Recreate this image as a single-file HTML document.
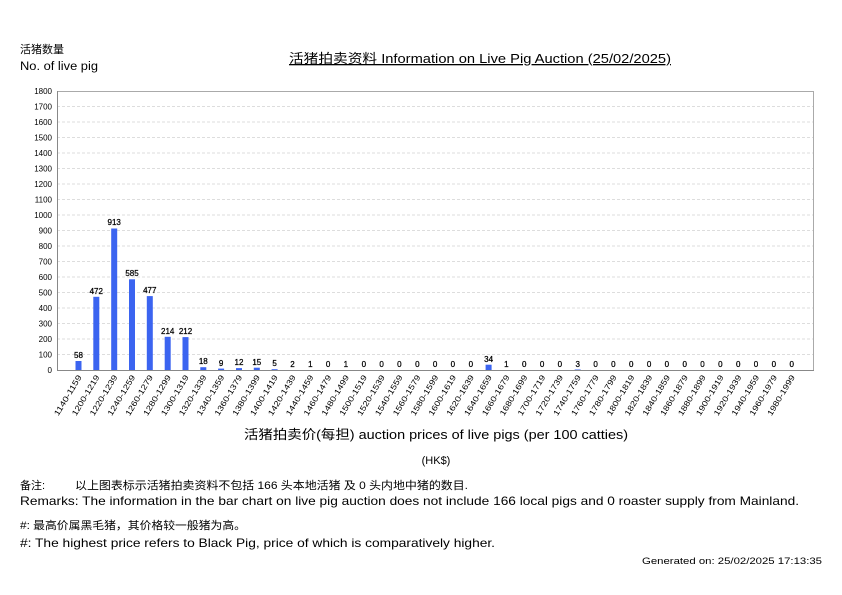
<!DOCTYPE html><html><head><meta charset="utf-8"><style>
body{margin:0;background:#fff}svg{display:block;font-family:"Liberation Sans","Noto Sans CJK SC",sans-serif}
</style></head><body>
<svg width="842" height="595" viewBox="0 0 842 595" xmlns="http://www.w3.org/2000/svg">
<text x="20" y="53" font-size="11">活猪数量</text>
<text x="20" y="70" font-size="11.5" textLength="78" lengthAdjust="spacingAndGlyphs">No. of live pig</text>
<text x="289" y="63" font-size="13" text-decoration="underline" textLength="382" lengthAdjust="spacingAndGlyphs">活猪拍卖资料 Information on Live Pig Auction (25/02/2025)</text>
<g stroke="#ddd" stroke-dasharray="3,2" stroke-width="1">
<line x1="57" x2="814" y1="106.5" y2="106.5"/><line x1="57" x2="814" y1="122" y2="122"/><line x1="57" x2="814" y1="137.5" y2="137.5"/><line x1="57" x2="814" y1="153" y2="153"/><line x1="57" x2="814" y1="168.5" y2="168.5"/><line x1="57" x2="814" y1="184" y2="184"/><line x1="57" x2="814" y1="199.5" y2="199.5"/><line x1="57" x2="814" y1="215" y2="215"/><line x1="57" x2="814" y1="230.5" y2="230.5"/><line x1="57" x2="814" y1="246" y2="246"/><line x1="57" x2="814" y1="261.5" y2="261.5"/><line x1="57" x2="814" y1="277" y2="277"/><line x1="57" x2="814" y1="292.5" y2="292.5"/><line x1="57" x2="814" y1="308" y2="308"/><line x1="57" x2="814" y1="323.5" y2="323.5"/><line x1="57" x2="814" y1="339" y2="339"/><line x1="57" x2="814" y1="354.5" y2="354.5"/>
</g>
<rect x="57.5" y="91.5" width="756" height="279" fill="none" stroke="#aaa"/>
<line x1="57.5" y1="91" x2="57.5" y2="371" stroke="#888"/>
<line x1="57" y1="370.5" x2="814" y2="370.5" stroke="#888"/>
<g font-size="8" text-anchor="end">
<text x="52" y="94">1800</text><text x="52" y="109.5">1700</text><text x="52" y="125">1600</text><text x="52" y="140.5">1500</text><text x="52" y="156">1400</text><text x="52" y="171.5">1300</text><text x="52" y="187">1200</text><text x="52" y="202.5">1100</text><text x="52" y="218">1000</text><text x="52" y="233.5">900</text><text x="52" y="249">800</text><text x="52" y="264.5">700</text><text x="52" y="280">600</text><text x="52" y="295.5">500</text><text x="52" y="311">400</text><text x="52" y="326.5">300</text><text x="52" y="342">200</text><text x="52" y="357.5">100</text><text x="52" y="373">0</text>
</g>
<g fill="#3b64f0">
<rect x="75.5" y="361" width="6" height="9"/><rect x="93.3" y="296.8" width="6" height="73.2"/><rect x="111.2" y="228.5" width="6" height="141.5"/><rect x="129" y="279.3" width="6" height="90.7"/><rect x="146.8" y="296.1" width="6" height="73.9"/><rect x="164.7" y="336.8" width="6" height="33.2"/><rect x="182.5" y="337.1" width="6" height="32.9"/><rect x="200.3" y="367.2" width="6" height="2.8"/><rect x="218.1" y="368.6" width="6" height="1.4"/><rect x="236" y="368.1" width="6" height="1.9"/><rect x="253.8" y="367.7" width="6" height="2.3"/><rect x="271.6" y="369.2" width="6" height="0.8"/><rect x="485.6" y="364.7" width="6" height="5.3"/><rect x="574.7" y="369.5" width="6" height="0.5"/>
</g>
<g font-size="8" text-anchor="middle" stroke="#000" stroke-width="0.25">
<text x="78.5" y="358">58</text><text x="96.3" y="294">472</text><text x="114.2" y="225">913</text><text x="132" y="276">585</text><text x="149.8" y="293">477</text><text x="167.7" y="334">214</text><text x="185.5" y="334">212</text><text x="203.3" y="364">18</text><text x="221.1" y="366">9</text><text x="239" y="365">12</text><text x="256.8" y="365">15</text><text x="274.6" y="366">5</text><text x="292.5" y="367">2</text><text x="310.3" y="367">1</text><text x="328.1" y="367">0</text><text x="345.9" y="367">1</text><text x="363.8" y="367">0</text><text x="381.6" y="367">0</text><text x="399.4" y="367">0</text><text x="417.3" y="367">0</text><text x="435.1" y="367">0</text><text x="452.9" y="367">0</text><text x="470.8" y="367">0</text><text x="488.6" y="362">34</text><text x="506.4" y="367">1</text><text x="524.2" y="367">0</text><text x="542.1" y="367">0</text><text x="559.9" y="367">0</text><text x="577.7" y="367">3</text><text x="595.6" y="367">0</text><text x="613.4" y="367">0</text><text x="631.2" y="367">0</text><text x="649.1" y="367">0</text><text x="666.9" y="367">0</text><text x="684.7" y="367">0</text><text x="702.5" y="367">0</text><text x="720.4" y="367">0</text><text x="738.2" y="367">0</text><text x="756" y="367">0</text><text x="773.9" y="367">0</text><text x="791.7" y="367">0</text>
</g>
<g font-size="8" text-anchor="end">
<text transform="translate(82,377) rotate(-59)" textLength="46" lengthAdjust="spacingAndGlyphs">1140-1159</text><text transform="translate(99.8,377) rotate(-59)" textLength="46" lengthAdjust="spacingAndGlyphs">1200-1219</text><text transform="translate(117.7,377) rotate(-59)" textLength="46" lengthAdjust="spacingAndGlyphs">1220-1239</text><text transform="translate(135.5,377) rotate(-59)" textLength="46" lengthAdjust="spacingAndGlyphs">1240-1259</text><text transform="translate(153.3,377) rotate(-59)" textLength="46" lengthAdjust="spacingAndGlyphs">1260-1279</text><text transform="translate(171.2,377) rotate(-59)" textLength="46" lengthAdjust="spacingAndGlyphs">1280-1299</text><text transform="translate(189,377) rotate(-59)" textLength="46" lengthAdjust="spacingAndGlyphs">1300-1319</text><text transform="translate(206.8,377) rotate(-59)" textLength="46" lengthAdjust="spacingAndGlyphs">1320-1339</text><text transform="translate(224.6,377) rotate(-59)" textLength="46" lengthAdjust="spacingAndGlyphs">1340-1359</text><text transform="translate(242.5,377) rotate(-59)" textLength="46" lengthAdjust="spacingAndGlyphs">1360-1379</text><text transform="translate(260.3,377) rotate(-59)" textLength="46" lengthAdjust="spacingAndGlyphs">1380-1399</text><text transform="translate(278.1,377) rotate(-59)" textLength="46" lengthAdjust="spacingAndGlyphs">1400-1419</text><text transform="translate(296,377) rotate(-59)" textLength="46" lengthAdjust="spacingAndGlyphs">1420-1439</text><text transform="translate(313.8,377) rotate(-59)" textLength="46" lengthAdjust="spacingAndGlyphs">1440-1459</text><text transform="translate(331.6,377) rotate(-59)" textLength="46" lengthAdjust="spacingAndGlyphs">1460-1479</text><text transform="translate(349.4,377) rotate(-59)" textLength="46" lengthAdjust="spacingAndGlyphs">1480-1499</text><text transform="translate(367.3,377) rotate(-59)" textLength="46" lengthAdjust="spacingAndGlyphs">1500-1519</text><text transform="translate(385.1,377) rotate(-59)" textLength="46" lengthAdjust="spacingAndGlyphs">1520-1539</text><text transform="translate(402.9,377) rotate(-59)" textLength="46" lengthAdjust="spacingAndGlyphs">1540-1559</text><text transform="translate(420.8,377) rotate(-59)" textLength="46" lengthAdjust="spacingAndGlyphs">1560-1579</text><text transform="translate(438.6,377) rotate(-59)" textLength="46" lengthAdjust="spacingAndGlyphs">1580-1599</text><text transform="translate(456.4,377) rotate(-59)" textLength="46" lengthAdjust="spacingAndGlyphs">1600-1619</text><text transform="translate(474.3,377) rotate(-59)" textLength="46" lengthAdjust="spacingAndGlyphs">1620-1639</text><text transform="translate(492.1,377) rotate(-59)" textLength="46" lengthAdjust="spacingAndGlyphs">1640-1659</text><text transform="translate(509.9,377) rotate(-59)" textLength="46" lengthAdjust="spacingAndGlyphs">1660-1679</text><text transform="translate(527.7,377) rotate(-59)" textLength="46" lengthAdjust="spacingAndGlyphs">1680-1699</text><text transform="translate(545.6,377) rotate(-59)" textLength="46" lengthAdjust="spacingAndGlyphs">1700-1719</text><text transform="translate(563.4,377) rotate(-59)" textLength="46" lengthAdjust="spacingAndGlyphs">1720-1739</text><text transform="translate(581.2,377) rotate(-59)" textLength="46" lengthAdjust="spacingAndGlyphs">1740-1759</text><text transform="translate(599.1,377) rotate(-59)" textLength="46" lengthAdjust="spacingAndGlyphs">1760-1779</text><text transform="translate(616.9,377) rotate(-59)" textLength="46" lengthAdjust="spacingAndGlyphs">1780-1799</text><text transform="translate(634.7,377) rotate(-59)" textLength="46" lengthAdjust="spacingAndGlyphs">1800-1819</text><text transform="translate(652.6,377) rotate(-59)" textLength="46" lengthAdjust="spacingAndGlyphs">1820-1839</text><text transform="translate(670.4,377) rotate(-59)" textLength="46" lengthAdjust="spacingAndGlyphs">1840-1859</text><text transform="translate(688.2,377) rotate(-59)" textLength="46" lengthAdjust="spacingAndGlyphs">1860-1879</text><text transform="translate(706,377) rotate(-59)" textLength="46" lengthAdjust="spacingAndGlyphs">1880-1899</text><text transform="translate(723.9,377) rotate(-59)" textLength="46" lengthAdjust="spacingAndGlyphs">1900-1919</text><text transform="translate(741.7,377) rotate(-59)" textLength="46" lengthAdjust="spacingAndGlyphs">1920-1939</text><text transform="translate(759.5,377) rotate(-59)" textLength="46" lengthAdjust="spacingAndGlyphs">1940-1959</text><text transform="translate(777.4,377) rotate(-59)" textLength="46" lengthAdjust="spacingAndGlyphs">1960-1979</text><text transform="translate(795.2,377) rotate(-59)" textLength="46" lengthAdjust="spacingAndGlyphs">1980-1999</text>
</g>
<text x="436" y="439" font-size="13" text-anchor="middle" textLength="384" lengthAdjust="spacingAndGlyphs">活猪拍卖价(每担) auction prices of live pigs (per 100 catties)</text>
<text x="436" y="464" font-size="11" text-anchor="middle">(HK$)</text>
<text x="20" y="489" font-size="11">备注:</text>
<text x="75" y="489" font-size="11" textLength="393" lengthAdjust="spacingAndGlyphs">以上图表标示活猪拍卖资料不包括 166 头本地活猪 及 0 头内地中猪的数目.</text>
<text x="20" y="505" font-size="12" textLength="779" lengthAdjust="spacingAndGlyphs">Remarks: The information in the bar chart on live pig auction does not include 166 local pigs and 0 roaster supply from Mainland.</text>
<text x="20" y="529" font-size="11" textLength="226" lengthAdjust="spacingAndGlyphs">#: 最高价属黑毛猪，其价格较一般猪为高。</text>
<text x="20" y="547" font-size="12" textLength="475" lengthAdjust="spacingAndGlyphs">#: The highest price refers to Black Pig, price of which is comparatively higher.</text>
<text x="822" y="564" font-size="9.5" text-anchor="end" textLength="180" lengthAdjust="spacingAndGlyphs">Generated on: 25/02/2025 17:13:35</text>
</svg>
</body></html>
